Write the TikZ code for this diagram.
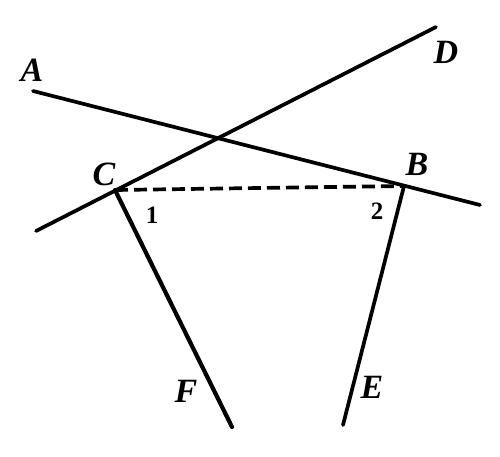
\documentclass[tikz,border=0pt]{standalone}
\usepackage{fontspec}
\setmainfont{Liberation Serif}
\usetikzlibrary{positioning}
\begin{document}
\begin{tikzpicture}[
    x=1pt, y=-1pt,
    every path/.style={line width=3.7pt, line cap=round},
    ray/.style={draw=black},
    chord/.style={draw=black, dash pattern=on 13pt off 6pt, line cap=butt},
    point/.style={inner sep=0, font=\fontsize{34}{34}\selectfont\bfseries\itshape},
    angle/.style={inner sep=0, font=\fontsize{25}{25}\selectfont\bfseries},
    ]
    \useasboundingbox (0,0) rectangle (500,457);

    % points of the figure
    \coordinate (a) at (33,91);
    \coordinate (b) at (404,186);
    \coordinate (c) at (115,190);
    \coordinate (d) at (436,27);
    \coordinate (e) at (343,425);
    \coordinate (f) at (232,427);
    \coordinate (ab-end) at (480,205);
    \coordinate (cd-end) at (36,231);

    \draw [ray] (a) -- (ab-end);
    \draw [ray] (cd-end) -- (d);
    \draw [ray, line width=4.2pt] (c) -- (f);
    \draw [ray] (b) -- (e);
    \draw [chord] (c) -- (b);

    % labels
    \node (label-a) [point] at (32,70) {A};
    \node (label-b) [point] at (417,164) {B};
    \node (label-c) [point] at (104,174) {C};
    \node (label-d) [point] at (446,52) {D};
    \node (label-e) [point] at (372,387) {E};
    \node (label-f) [point] at (186,391) {F};
    \node (angle-1) [angle] at (152,215) {1};
    \node (angle-2) [angle] at (377,211) {2};
\end{tikzpicture}
\end{document}
